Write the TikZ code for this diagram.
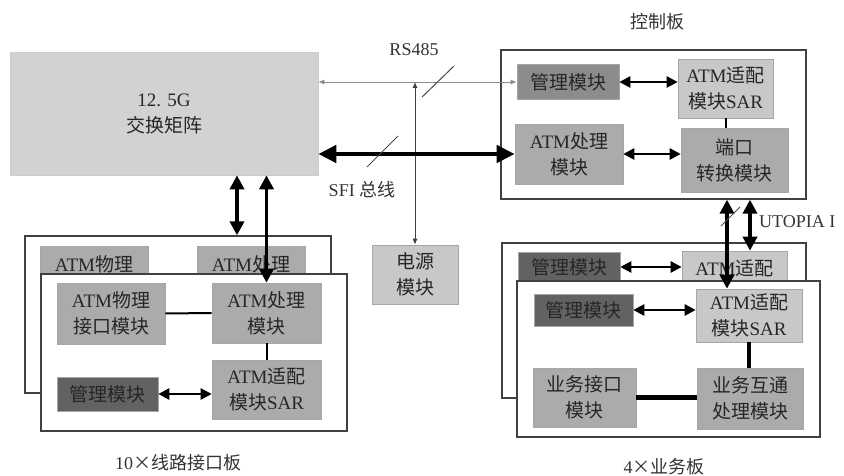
\documentclass[tikz,border=0pt]{standalone}
\usepackage{fontspec}
\setmainfont{Liberation Serif}
\newfontfamily\cjk{Noto Sans CJK SC}
\usetikzlibrary{arrows.meta}
\newcommand{\zh}[1]{{\cjk #1}}
\definecolor{swc}{HTML}{D2D2D2}
\definecolor{lt}{HTML}{C8C8C8}
\definecolor{md}{HTML}{ABABAB}
\definecolor{mg}{HTML}{8C8C8C}
\definecolor{dk}{HTML}{626262}
\begin{document}
\begin{tikzpicture}[x=1pt,y=-1pt,
  font=\fontsize{19}{26}\selectfont,
  sz/.style n args={2}{minimum width=#1, minimum height=#2},
  mod/.style={inner sep=0, align=center, draw=black!35, line width=0.6pt, text=black!85},
  board/.style={inner sep=0, draw=black!75, line width=1.3pt, fill=white},
  lbl/.style={inner sep=0, text=black!80, font=\fontsize{18}{22}\selectfont},
  rs/.style={draw=black!45, line width=0.8pt, {Latex[length=6pt,width=5pt]}-{Latex[length=6pt,width=5pt]}},
  pwl/.style={draw=black!75, line width=0.9pt, {Latex[length=6pt,width=5pt]}-{Latex[length=6pt,width=5pt]}},
  sfi/.style={line width=4.5pt, {Triangle[length=18pt,width=17pt]}-{Triangle[length=18pt,width=17pt]}},
  barr/.style={line width=3.6pt, {Triangle[length=14pt,width=14pt]}-{Triangle[length=14pt,width=14pt]}},
  marr/.style={line width=2.4pt, {Triangle[length=11pt,width=11pt]}-{Triangle[length=11pt,width=11pt]}},
  mline/.style={line width=2pt},
  tline/.style={line width=4.5pt},
  slash/.style={draw=black!70, line width=1pt}]
\useasboundingbox (0,0) rectangle (844,476);
\fill[white] (0,0) rectangle (844,476);

% switch matrix
\node[mod, fill=swc, draw=black!20, sz={308}{123}] (sw) at (164,113.5) {12. 5G\\\zh{交换矩阵}};

% control board
\node[board, sz={305}{149}] (ctl) at (653.5,124.5) {};
\node[lbl] (ctlt) at (657,22) {\zh{控制板}};
\node[mod, fill=mg, sz={102}{35}] (cmg) at (568,82) {\zh{管理模块}};
\node[mod, fill=lt, sz={95}{59}] (csar) at (725.5,88.5) {ATM\zh{适配}\\\zh{模块}SAR};
\node[mod, fill=md, sz={108}{60}] (cpr) at (569,154) {ATM\zh{处理}\\\zh{模块}};
\node[mod, fill=md, sz={107}{64}] (cpt) at (734.5,160) {\zh{端口}\\\zh{转换模块}};

% line interface board
\node[board, sz={306}{157}] (lb) at (178,314.5) {};
\node[mod, fill=md, sz={108}{36}] (lbphy) at (94,264) {ATM\zh{物理}};
\node[mod, fill=md, sz={108}{36}] (lbpr) at (251,264) {ATM\zh{处理}};
\node[board, sz={306}{157}] (lf) at (194,352.5) {};
\node[mod, fill=md, sz={108}{61}] (lphy) at (111,313.5) {ATM\zh{物理}\\\zh{接口模块}};
\node[mod, fill=md, sz={109}{60}] (lpr) at (266.5,313) {ATM\zh{处理}\\\zh{模块}};
\node[mod, fill=dk, sz={101}{34}] (lmg) at (107.5,394) {\zh{管理模块}};
\node[mod, fill=md, sz={109}{59}] (lsar) at (266.5,389.5) {ATM\zh{适配}\\\zh{模块}SAR};
\node[lbl] (lbt) at (178,463) {10\zh{×线路接口板}};

% power
\node[mod, fill=lt, sz={86}{59}] (pw) at (415,274.5) {\zh{电源}\\\zh{模块}};

% business board
\node[board, sz={304}{155}] (bb) at (654,320.5) {};
\node[mod, fill=dk, sz={102}{30}] (bbmg) at (569,267) {\zh{管理模块}};
\node[mod, fill=lt, sz={105}{34}] (bbsar) at (734.5,268) {ATM\zh{适配}};
\node[board, sz={303}{156}] (bf) at (668.5,359) {};
\node[mod, fill=dk, sz={99}{32}] (bmg) at (583.5,310) {\zh{管理模块}};
\node[mod, fill=lt, sz={106}{53}] (bsar) at (749,315.5) {ATM\zh{适配}\\\zh{模块}SAR};
\node[mod, fill=md, sz={103}{59}] (bif) at (584.5,397.5) {\zh{业务接口}\\\zh{模块}};
\node[mod, fill=md, sz={106}{61}] (bpr) at (750,398.5) {\zh{业务互通}\\\zh{处理模块}};
\node[lbl] (bbt) at (664,467) {4\zh{×业务板}};

% labels
\node[lbl] (rsl) at (414,50) {RS485};
\node[lbl] (sfil) at (362,190) {SFI \zh{总线}};
\node[lbl, anchor=west] (utl) at (759,222) {UTOPIA I};

% connectors
\coordinate (rsj) at (pw.north |- cmg.west);
\draw[rs] (sw.east |- cmg.west) -- (cmg.west);
\draw[pwl] (rsj) -- (pw.north);
\draw[slash] (422,97) -- (454,66);
\draw[sfi] (sw.east |- cpr.west) -- (cpr.west);
\draw[slash] (367,167) -- (398,136);

\draw[marr] (cmg.east) -- (csar.west |- cmg.east);
\draw[marr] (cpr.east) -- (cpt.west |- cpr.east);
\draw[mline] (csar.south) -- (csar.south |- cpt.north);

\coordinate (u1) at (727,0);
\coordinate (u2) at (750,0);
\draw[barr] (ctl.south -| u1) -- (bsar.north -| u1);
\draw[barr] (ctl.south -| u2) -- (bbsar.north -| u2);
\draw[slash] (721,226) -- (740,207);

\coordinate (d1) at (237,0);
\draw[barr] (sw.south -| d1) -- (lb.north -| d1);
\draw[barr] (sw.south -| lpr.north) -- (lpr.north);

\draw[mline] (lphy.east) -- (lpr.west);
\draw[mline] (lpr.south) -- (lsar.north);
\draw[marr] (lmg.east) -- (lsar.west |- lmg.east);

\draw[marr] (bbmg.east) -- (bbsar.west |- bbmg.east);
\draw[marr] (bmg.east) -- (bsar.west |- bmg.east);
\draw[tline] (bsar.south) -- (bpr.north -| bsar.south);
\draw[tline] (bif.east) -- (bpr.west |- bif.east);
\end{tikzpicture}
\end{document}
